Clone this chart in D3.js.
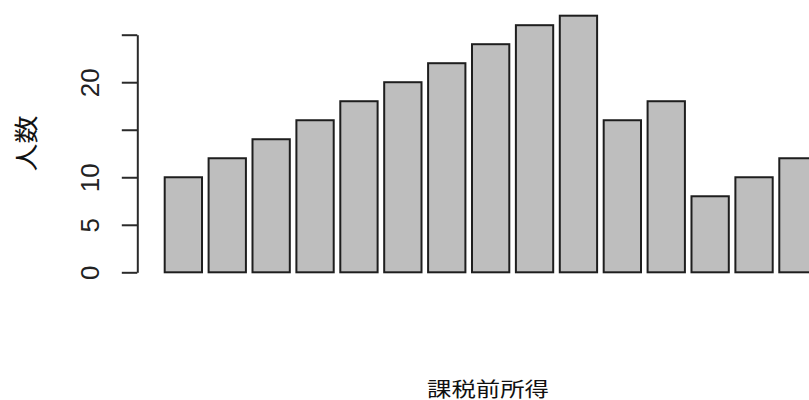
<!DOCTYPE html>
<html>
<head>
<meta charset="utf-8">
<script src="https://cdn.jsdelivr.net/npm/d3@7"></script>
<style>
  html, body { margin: 0; padding: 0; background: #fff; overflow: hidden; }
  svg { display: block; }
</style>
</head>
<body>
<script>
// Data
const categories = ["1","2","3","4","5","6","7","8","9","10","11","12","13","14","15"];
const counts = [10, 12, 14, 16, 18, 20, 22, 24, 26, 27, 16, 18, 8, 10, 12];
const yTicks = [0, 5, 10, 15, 20, 25];
const yTickLabels = ["0", "5", "10", "", "20", ""];
const xTitle = "課税前所得";
const yTitle = "人数";

const W = 809, H = 400;
const svg = d3.select("body").append("svg").attr("width", W).attr("height", H);

const x = d3.scaleBand()
  .domain(categories)
  .range([164.7, 816.6])
  .paddingInner(0.15)
  .paddingOuter(0)
  .align(0);

const y = d3.scaleLinear().domain([0, 25]).range([272.3, 34.7]);

svg.append("g")
  .selectAll("rect")
  .data(counts)
  .join("rect")
  .attr("x", (d, i) => x(categories[i]))
  .attr("width", x.bandwidth())
  .attr("y", d => y(d))
  .attr("height", d => y(0) - y(d))
  .attr("fill", "#bebebe")
  .attr("stroke", "#1e1e1e")
  .attr("stroke-width", 2);

const yAxis = d3.axisLeft(y)
  .tickValues(yTicks)
  .tickFormat((d, i) => yTickLabels[i])
  .tickSize(15.5)
  .tickSizeOuter(0);

const gy = svg.append("g").attr("transform", "translate(137.3,0)").call(yAxis);
gy.select(".domain").attr("stroke", "#2a2a2a").attr("stroke-width", 2);
gy.selectAll(".tick line").attr("stroke", "#2a2a2a").attr("stroke-width", 2);
gy.selectAll(".tick text")
  .attr("x", null).attr("dy", null)
  .attr("transform", "translate(-38.3,0) rotate(-90)")
  .attr("text-anchor", "middle")
  .attr("fill", "#222")
  .style("font-family", "'Liberation Sans', Arial, sans-serif")
  .style("font-size", "26px");

svg.append("text")
  .attr("x", 488).attr("y", 397)
  .attr("text-anchor", "middle")
  .attr("textLength", 122).attr("lengthAdjust", "spacingAndGlyphs")
  .attr("fill", "#111")
  .style("font-family", "'Noto Sans CJK JP', sans-serif")
  .style("font-size", "20px")
  .text(xTitle);

svg.append("text")
  .attr("transform", "translate(35,143.5) rotate(-90)")
  .attr("text-anchor", "middle")
  .attr("textLength", 56).attr("lengthAdjust", "spacingAndGlyphs")
  .attr("fill", "#111")
  .style("font-family", "'Noto Sans CJK JP', sans-serif")
  .style("font-size", "24px")
  .text(yTitle);
</script>
</body>
</html>
